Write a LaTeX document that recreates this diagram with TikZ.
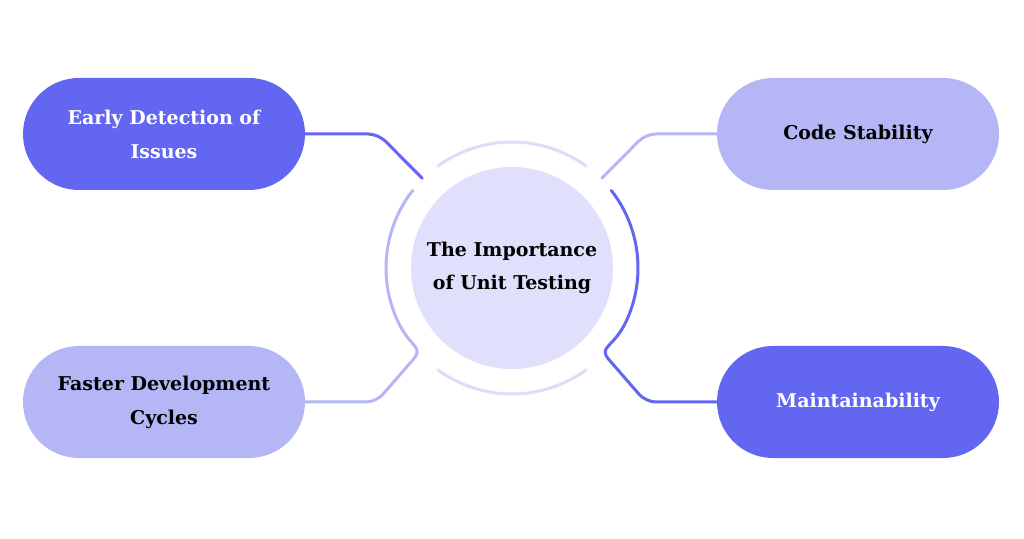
\documentclass[tikz,border=0pt]{standalone}
\usepackage{fontspec}
\setmainfont{DejaVu Serif}
\usepackage{tikz}
\usetikzlibrary{calc, positioning}
\definecolor{indigo1}{RGB}{99,102,241}
\definecolor{lavender1}{RGB}{180,182,245}
\definecolor{mist1}{RGB}{224,224,252}
\definecolor{haze1}{RGB}{221,221,250}

\begin{document}
\begin{tikzpicture}[x=1pt, y=1pt,
    darkbox/.style={fill=indigo1, rounded corners=56pt, minimum width=282pt, minimum height=112pt, text=white, align=center, font=\bfseries\fontsize{19}{34}\selectfont},
    lightbox/.style={darkbox, fill=lavender1, text=black},
    hub/.style={circle, fill=mist1, minimum size=202pt, align=center, font=\bfseries\fontsize{19}{33}\selectfont},
    darklink/.style={draw=indigo1, line width=3pt, line cap=round, rounded corners=10pt},
    lightlink/.style={darklink, draw=lavender1},
    halo/.style={draw=haze1, line width=3pt, line cap=round}
]
        \useasboundingbox (0,0) rectangle (1024,538);

        \node[hub, name=hub] at(512,270) {The Importance\\of Unit Testing};
        \node[darkbox, name=early] at(164,404) {Early Detection of\\Issues};
        \node[lightbox, name=faster] at(164,136) {Faster Development\\Cycles};
        \node[lightbox, name=stable] at(858,404) {Code Stability};
        \node[darkbox, name=maint] at(858,136) {Maintainability};

        \coordinate (tlend) at ($(hub.center)+(135:127)$);
        \coordinate (trend) at ($(hub.center)+(45:127)$);

        % open ring round the hub
        \draw[halo] ($(hub.center)+(54:126)$) arc[start angle=54, end angle=126, radius=126];
        \draw[halo] ($(hub.center)+(234:126)$) arc[start angle=234, end angle=306, radius=126];

        \draw[darklink] (early.east) -- ([xshift=-44pt]early.east -| tlend) -- (tlend);
        \draw[lightlink] (stable.west) -- ([xshift=44pt]stable.west -| trend) -- (trend);

        \draw[lightlink] (faster.east) -- ++(71,0) -- ++(30,34.5) [sharp corners] .. controls +(18.4,21.1) and ($(hub.center)+(205:126)+(12.7,-27.2)$) .. ($(hub.center)+(205:126)$) arc[start angle=205, end angle=142, radius=126];
        \draw[darklink] (maint.west) -- ++(-71,0) -- ++(-30,34.5) [sharp corners] .. controls +(-18.4,21.1) and ($(hub.center)+(-25:126)+(-12.7,-27.2)$) .. ($(hub.center)+(-25:126)$) arc[start angle=-25, end angle=38, radius=126];

\end{tikzpicture}
\end{document}
